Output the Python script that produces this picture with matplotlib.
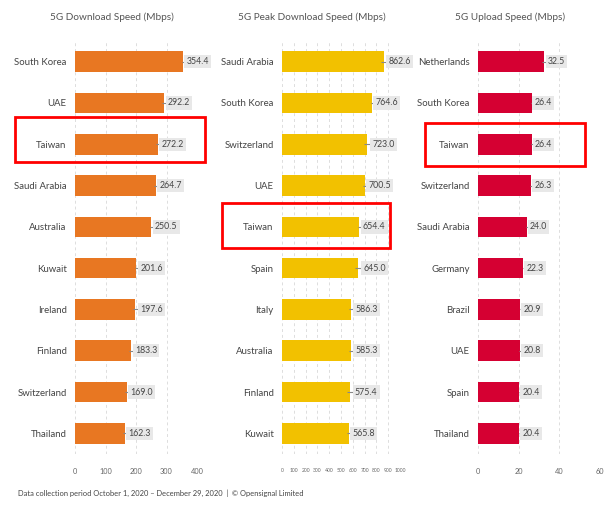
import matplotlib.pyplot as plt
from matplotlib.patches import Rectangle

FONT = ['Lato', 'DejaVu Sans']
plt.rcParams['font.family'] = FONT

download_countries = ['South Korea', 'UAE', 'Taiwan', 'Saudi Arabia', 'Australia',
                      'Kuwait', 'Ireland', 'Finland', 'Switzerland', 'Thailand']
download_values = [354.4, 292.2, 272.2, 264.7, 250.5, 201.6, 197.6, 183.3, 169.0, 162.3]
download_err = [4, 6, 5, 6, 5, 6, 8, 6, 5, 5]

peak_countries = ['Saudi Arabia', 'South Korea', 'Switzerland', 'UAE', 'Taiwan',
                  'Spain', 'Italy', 'Australia', 'Finland', 'Kuwait']
peak_values = [862.6, 764.6, 723.0, 700.5, 654.4, 645.0, 586.3, 585.3, 575.4, 565.8]
peak_err = [20, 10, 25, 15, 12, 25, 15, 20, 25, 15]

upload_countries = ['Netherlands', 'South Korea', 'Taiwan', 'Switzerland', 'Saudi Arabia',
                    'Germany', 'Brazil', 'UAE', 'Spain', 'Thailand']
upload_values = [32.5, 26.4, 26.4, 26.3, 24.0, 22.3, 20.9, 20.8, 20.4, 20.4]
upload_err = [0.8, 0.3, 0.5, 0.5, 0.4, 0.4, 0.4, 0.4, 0.4, 0.4]

W, H = 615, 505
fig = plt.figure(figsize=(W / 100, H / 100), dpi=100)


def px_axes(left, right, top, bottom):
    return fig.add_axes([left / W, 1 - bottom / H, (right - left) / W, (bottom - top) / H])


def plotPanel(ax, countries, values, errs, color, title, title_x, xmax, ticks, tick_size):
    pos = range(len(countries))
    ax.barh(pos, values, height=0.5, color=color, zorder=2)
    ax.errorbar(values, pos, xerr=errs, fmt='none', ecolor='#888888', elinewidth=0.8,
                capsize=0, zorder=3)
    for y, v, e in zip(pos, values, errs):
        ax.annotate('{:.1f}'.format(v), xy=(v + e, y), xytext=(1.5, 0),
                    textcoords='offset points', ha='left', va='center', fontsize=6.3,
                    color='#444444',
                    bbox=dict(boxstyle='square,pad=0.25', fc='#e8e8e8', ec='none'),
                    zorder=4, annotation_clip=False)
    ax.set_xlim(0, xmax)
    ax.set_ylim(len(countries) - 0.5, -0.5)
    ax.set_yticks(list(pos))
    ax.set_yticklabels(countries, fontsize=6.9, color='#444444')
    ax.set_xticks(ticks)
    ax.set_xticklabels([str(t) for t in ticks], fontsize=tick_size, color='#666666')
    ax.tick_params(length=0, pad=10)
    ax.tick_params(axis='y', pad=6)
    ax.grid(axis='x', linestyle=(0, (3, 3)), color='#dddddd', linewidth=0.7, zorder=0)
    for s in ax.spines.values():
        s.set_visible(False)
    fig.text(title_x / W, 1 - 17 / H, title, fontsize=7.2, color='#555555',
             ha='center', va='center')


ax1 = px_axes(75, 197, 41, 454)
plotPanel(ax1, download_countries, download_values, download_err, '#e87722',
          '5G Download Speed (Mbps)', 112, 400, [0, 100, 200, 300, 400], 5.3)

ax2 = px_axes(282, 400, 41, 454)
plotPanel(ax2, peak_countries, peak_values, peak_err, '#f2c100',
          '5G Peak Download Speed (Mbps)', 312, 1000, list(range(0, 1001, 100)), 3.6)

ax3 = px_axes(478, 600, 41, 454)
plotPanel(ax3, upload_countries, upload_values, upload_err, '#d50032',
          '5G Upload Speed (Mbps)', 510, 60, [0, 20, 40, 60], 5.3)

# red highlight boxes around Taiwan
for x0, y0, x1, y1 in [(15, 117, 205, 162), (222, 203, 390, 248), (425, 123, 585, 166)]:
    fig.patches.append(Rectangle((x0 / W, 1 - y1 / H), (x1 - x0) / W, (y1 - y0) / H,
                                 transform=fig.transFigure, fill=False, ec='#ff0000',
                                 lw=2, zorder=10))

fig.text(18 / W, 1 - 493 / H,
         'Data collection period October 1, 2020 \u2013 December 29, 2020  |  \u00a9 Opensignal Limited',
         fontsize=5.4, color='#444444', va='center', ha='left')

fig.savefig('out.png', dpi=100)
